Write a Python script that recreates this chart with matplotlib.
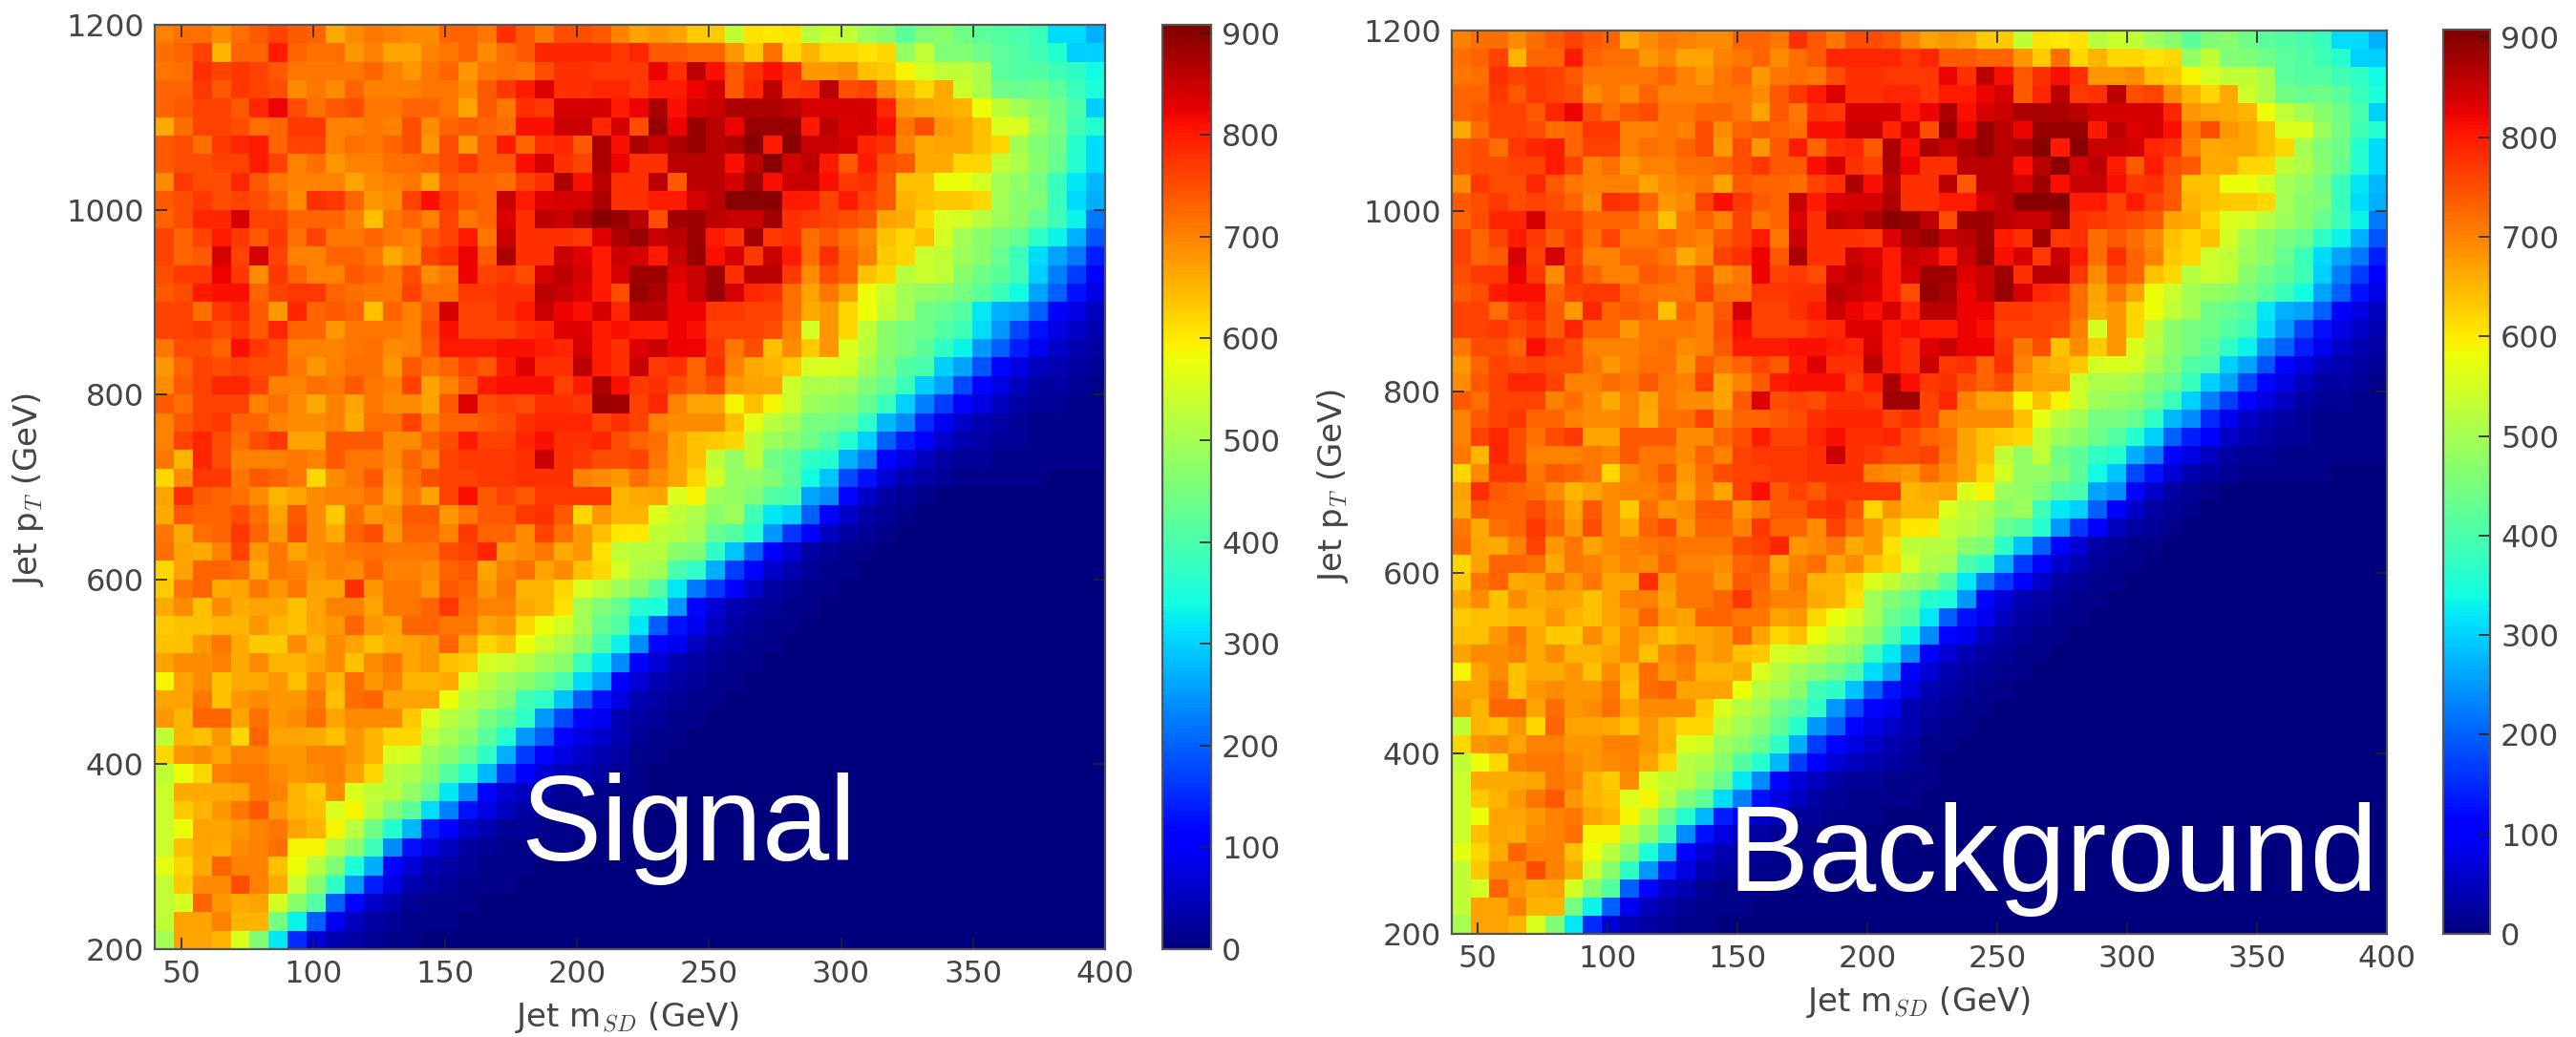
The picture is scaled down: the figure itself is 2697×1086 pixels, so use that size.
import numpy as np
import matplotlib
matplotlib.use("Agg")
import matplotlib.pyplot as plt

# Counts per bin in units of ten. Row 0 is the top row (pT ~ 1200).
top_left = [
[70,72,72,69,72,74,76,74,73,66,69,71,70,69,69,73,73,71,78,74,71,75,75,74,70],
[72,73,76,65,73,73,80,73,72,72,68,70,67,67,70,71,73,69,72,74,79,79,79,79,77],
[71,72,78,76,77,76,74,71,71,71,71,73,70,68,71,73,68,71,72,71,75,78,78,77,77],
[73,73,77,74,77,76,75,69,71,69,73,70,70,70,71,71,69,74,77,80,83,78,78,79,79],
[73,74,76,76,74,79,82,75,72,74,75,71,71,73,73,71,67,74,71,78,77,84,84,84,80],
[66,72,76,76,75,72,73,77,77,70,70,71,70,75,69,73,74,73,72,81,81,85,85,79,84],
[74,75,72,77,79,80,73,76,76,70,72,71,73,75,68,75,68,74,80,73,78,79,74,87,81],
[74,75,75,76,76,80,76,70,72,68,70,70,72,72,73,75,77,74,74,81,84,78,76,87,82],
[69,77,75,75,79,74,71,70,70,70,67,69,70,71,67,74,73,73,72,76,78,87,81,86,78],
[74,75,77,75,76,75,73,69,78,77,73,68,69,76,81,77,74,73,85,80,83,84,84,87,78],
[73,75,79,79,84,76,76,73,73,73,70,64,71,73,70,76,71,73,83,78,86,85,87,90,89],
[76,73,76,80,77,74,77,72,76,71,71,73,71,70,74,76,80,71,85,78,78,78,77,83,87],
[76,73,74,84,76,84,76,70,70,73,73,71,66,69,76,78,82,74,87,78,78,85,83,80,85],
[75,77,77,82,77,69,77,73,70,70,74,73,71,75,69,71,82,76,77,75,84,86,84,80,84],
[74,75,80,81,81,73,76,77,77,73,72,71,71,76,72,72,77,77,78,78,86,85,83,80,75],
[76,76,72,77,79,74,68,79,73,74,73,64,73,70,74,84,76,76,78,80,85,82,81,84,79],
[76,76,77,75,77,74,79,73,73,68,71,71,71,70,75,81,76,76,76,78,79,83,83,80,81],
[71,75,75,73,81,77,75,70,70,70,71,72,69,70,74,80,80,80,81,81,80,79,84,80,78],
[68,73,76,75,76,75,75,71,68,70,72,72,68,74,71,73,76,74,80,83,78,78,86,80,78],
[69,74,76,79,79,76,70,70,72,71,74,71,70,76,67,70,74,80,81,81,81,76,80,87,81],
[74,72,76,76,76,70,72,69,66,70,67,71,69,69,67,74,83,75,76,75,78,78,77,88,88],
[70,74,76,77,73,73,70,69,69,70,66,72,72,76,70,73,73,74,75,78,79,79,79,76,78],
[70,76,79,75,72,75,77,67,67,74,74,74,69,69,73,75,80,76,76,79,81,78,78,79,75],
[71,65,79,75,70,70,70,71,70,74,71,71,69,73,70,76,77,77,77,78,85,78,77,75,75],
[62,69,77,77,71,74,73,71,62,69,71,74,68,72,75,76,76,77,77,78,78,78,70,69,68],
]
top_right = [
[67,68,67,63,63,53,61,60,61,52,54,53,49,47,42,46,47,44,42,41,40,38,31,31,27],
[79,74,74,73,73,68,63,72,62,65,62,62,61,62,48,53,46,46,44,42,41,39,36,30,30],
[77,82,78,86,81,74,78,81,78,68,68,69,64,63,59,55,53,53,51,42,41,41,39,37,34],
[77,80,80,82,84,74,79,86,77,78,86,75,76,69,65,62,66,54,51,44,43,44,42,38,35],
[82,87,81,84,85,87,87,87,86,84,84,84,84,79,68,67,66,65,58,53,50,47,44,40,30],
[75,89,82,89,86,82,89,89,89,80,86,83,84,81,71,75,68,67,64,56,56,49,45,39,36],
[87,85,87,89,86,87,90,80,90,85,85,84,79,78,70,66,67,67,64,62,50,46,44,36,31],
[78,78,86,86,86,81,86,90,84,86,80,74,80,75,74,66,66,62,62,53,51,47,43,36,31],
[78,86,74,86,86,84,88,81,85,85,81,77,78,74,64,64,58,58,55,50,48,45,38,32,28],
[78,80,80,84,86,90,90,90,80,80,76,80,76,74,65,64,63,63,62,50,47,46,38,31,27],
[86,75,88,88,86,85,85,88,78,77,76,75,74,67,66,62,56,55,52,49,47,43,39,33,22],
[89,85,86,88,80,78,88,77,78,72,74,72,69,64,62,64,55,50,47,45,43,37,33,27,19],
[84,80,85,89,81,84,77,85,80,72,78,73,70,63,62,54,53,49,47,43,38,31,26,22,14],
[88,88,83,85,88,78,86,86,77,69,75,73,64,62,52,54,53,47,44,42,39,30,23,17,11],
[89,87,82,85,89,84,79,78,72,67,71,67,58,54,50,48,47,45,42,38,34,26,20,13,8],
[86,86,82,82,77,77,76,76,72,66,68,62,58,53,50,44,43,41,32,27,26,20,11,8,5],
[80,80,82,81,76,76,76,75,70,55,68,62,53,47,45,44,41,39,31,25,18,13,8,6,4],
[83,85,82,82,77,71,75,64,69,63,68,56,52,47,45,42,37,33,25,20,14,9,6,4,3],
[85,77,78,73,78,70,66,65,63,55,56,55,50,46,41,40,30,26,19,12,8,5,4,3,2],
[77,78,75,73,75,68,67,67,54,51,51,50,46,43,38,30,26,18,12,8,5,3,3,2,1],
[76,79,70,67,67,59,64,59,54,49,48,47,43,38,30,23,17,12,8,5,3,2,2,1,1],
[76,70,69,69,69,64,57,52,50,45,45,43,37,28,24,15,9,6,4,3,2,1,1,1,1],
[73,72,67,64,63,62,53,49,47,44,41,36,30,20,14,10,6,4,3,2,2,1,1,1,1],
[76,71,67,64,53,48,53,44,42,37,36,27,22,12,8,5,3,2,2,1,1,1,1,1,1],
[72,69,67,62,55,48,48,46,42,34,29,18,13,7,4,3,2,1,1,1,1,1,0,0,0],
]
bottom_left = [
[67,78,74,73,72,69,65,67,69,70,70,72,67,71,67,76,81,74,76,74,77,77,77,77,65],
[66,74,73,73,75,72,67,74,69,63,72,68,69,74,74,68,71,74,74,77,78,74,62,68,65],
[71,66,72,73,77,73,68,75,69,66,73,75,68,73,73,70,77,73,73,69,76,72,68,64,60],
[72,67,66,70,76,68,71,67,69,70,71,72,71,71,71,75,76,79,68,69,71,66,68,61,53],
[62,67,73,73,72,66,71,70,68,70,69,73,70,70,69,73,74,67,70,72,67,69,64,62,55],
[63,71,73,66,67,71,68,71,67,67,78,68,71,71,68,74,73,68,71,65,65,62,56,53,49],
[66,69,64,69,66,67,67,64,67,70,70,67,71,71,73,77,72,70,70,66,65,61,50,46,43],
[63,64,64,65,65,68,65,64,67,68,73,68,67,73,73,71,71,67,68,62,58,55,50,43,41],
[64,64,68,71,66,63,63,69,65,69,67,64,66,67,68,73,67,62,64,58,54,51,47,40,33],
[67,69,69,70,66,69,65,65,67,69,64,69,71,67,68,64,63,55,54,52,49,47,38,32,24],
[59,67,69,64,66,66,68,64,69,65,72,68,70,65,65,66,56,52,49,47,44,40,31,26,11],
[67,67,71,64,68,69,68,68,71,64,72,73,67,67,67,58,52,50,47,39,37,29,20,13,8],
[68,65,73,73,67,72,68,69,72,67,69,69,69,63,56,52,50,45,42,37,25,18,12,9,4],
[53,65,64,68,62,73,67,67,66,64,68,65,62,62,53,50,47,42,36,25,20,12,8,6,4],
[62,68,69,67,70,70,68,68,70,70,68,65,56,55,49,47,43,37,27,17,12,8,6,4,3],
[53,58,62,70,71,71,69,68,69,70,67,62,52,51,47,41,36,28,17,11,7,5,4,3,2],
[54,66,66,66,67,71,70,65,63,69,56,53,52,48,43,32,24,12,7,5,3,2,2,1,1],
[54,63,65,68,71,74,68,65,64,56,59,52,46,42,31,23,13,8,5,3,2,1,1,1,1],
[54,58,67,67,68,70,71,67,65,59,52,44,36,28,14,10,6,4,2,2,1,1,1,0,0],
[54,64,67,66,69,70,72,59,59,52,47,39,24,13,8,5,3,2,1,1,1,1,0,0,0],
[57,62,66,73,70,70,64,58,52,46,35,27,12,7,4,3,2,1,1,1,0,0,0,0,0],
[53,63,69,69,75,70,66,54,47,37,25,14,8,4,3,2,1,1,1,0,0,0,0,0,0],
[53,55,73,68,66,67,55,47,41,20,12,6,4,2,1,1,1,0,0,0,0,0,0,0,0],
[53,67,67,70,65,65,45,33,20,9,5,3,2,1,1,1,0,0,0,0,0,0,0,0,0],
[50,67,67,65,56,46,32,15,7,4,3,2,1,1,0,0,0,0,0,0,0,0,0,0,0],
]
bottom_right = [
[66,67,56,59,49,48,46,41,40,26,24,12,6,3,2,1],
[65,56,53,51,47,49,39,32,30,20,11,6,3,2,1],
[60,53,52,50,43,41,36,25,16,10,5,3,2,1],
[52,52,47,46,37,29,20,11,7,3,2,1,1],
[51,50,40,37,27,17,12,6,4,2,1,1],
[47,41,32,22,16,10,6,3,2,1,1],
[36,35,25,12,7,4,3,2,1,1],
[32,20,13,9,5,3,2,1,1],
[24,12,9,5,3,2,1,1],
[11,7,4,3,2,1,1],
[7,4,3,2,1,1],
[4,3,2,1,1],
[3,2,1,1],
[2,1,1],
[1,1],
[1],
[1],
[],[],[],[],[],[],[],[],
]

x_ticks = [50, 100, 150, 200, 250, 300, 350, 400]
y_ticks = [200, 400, 600, 800, 1000, 1200]
cbar_ticks = [0, 100, 200, 300, 400, 500, 600, 700, 800, 900]
mass_range = (40, 400)
pt_range = (200, 1200)
count_max = 908
panel_names = ["Signal", "Background"]

bad = [("tl", i) for i, r in enumerate(top_left) if len(r) != 25]
bad += [("tr", i) for i, r in enumerate(top_right) if len(r) != 25]
bad += [("bl", i) for i, r in enumerate(bottom_left) if len(r) != 25]
if bad or len(top_left) != 25 or len(bottom_right) != 25:
    raise ValueError(str(bad))

rows = [l + r for l, r in zip(top_left, top_right)]
rows += [l + r + [0] * (25 - len(r)) for l, r in zip(bottom_left, bottom_right)]
signal_counts = np.array(rows, dtype=float) * 10
# The two panels in the reference show the same bin pattern.
background_counts = signal_counts.copy()

W, H = 2697, 1086
plt.rcParams["mathtext.fontset"] = "cm"
plt.rcParams["font.family"] = "DejaVu Sans"
fig = plt.figure(figsize=(W / 100, H / 100), dpi=100)
INK = "#444444"


def box(x0, y0, x1, y1):
    return [x0 / W, 1 - y1 / H, (x1 - x0) / W, (y1 - y0) / H]


def panel(counts, ax_px, cb_px, ylab_xy, xlab_xy, name, name_xy, name_size):
    ax = fig.add_axes(box(*ax_px))
    im = ax.imshow(counts, cmap="jet", vmin=0, vmax=count_max, aspect="auto",
                   extent=[*mass_range, *pt_range], origin="upper",
                   interpolation="nearest")
    ax.set_xticks(x_ticks)
    ax.set_yticks(y_ticks)
    ax.tick_params(direction="in", length=9, width=1.2, top=True, right=True,
                   labelsize=23, labelcolor=INK, color="#222222", pad=8)
    for s in ax.spines.values():
        s.set_color("#555555")
        s.set_linewidth(1.6)
    cax = fig.add_axes(box(*cb_px))
    cb = fig.colorbar(im, cax=cax, ticks=cbar_ticks)
    cb.ax.tick_params(direction="in", length=9, width=1.2, labelsize=23,
                      labelcolor=INK, color="#222222", pad=8)
    cb.outline.set_edgecolor("#555555")
    cb.outline.set_linewidth(1.6)
    fig.text(ylab_xy[0] / W, 1 - ylab_xy[1] / H, "Jet p$_{T}$ (GeV)", rotation=90,
             ha="center", va="center", fontsize=24.5, color=INK)
    fig.text(xlab_xy[0] / W, 1 - xlab_xy[1] / H, "Jet m$_{SD}$ (GeV)",
             ha="center", va="center", fontsize=24.5, color=INK)
    fig.text(name_xy[0] / W, 1 - name_xy[1] / H, name, ha="left", va="baseline",
             fontsize=name_size, color="white", family="Liberation Sans")


panel(signal_counts, (162, 26, 1157, 994), (1217, 26, 1268, 994),
      (29, 513), (656, 1066), panel_names[0], (545, 901), 91)
panel(background_counts, (1520, 32, 2499, 978), (2558, 31, 2607, 978),
      (1396, 509), (2008, 1050), panel_names[1], (1808, 933), 92)

fig.savefig("out.png", dpi=100)
